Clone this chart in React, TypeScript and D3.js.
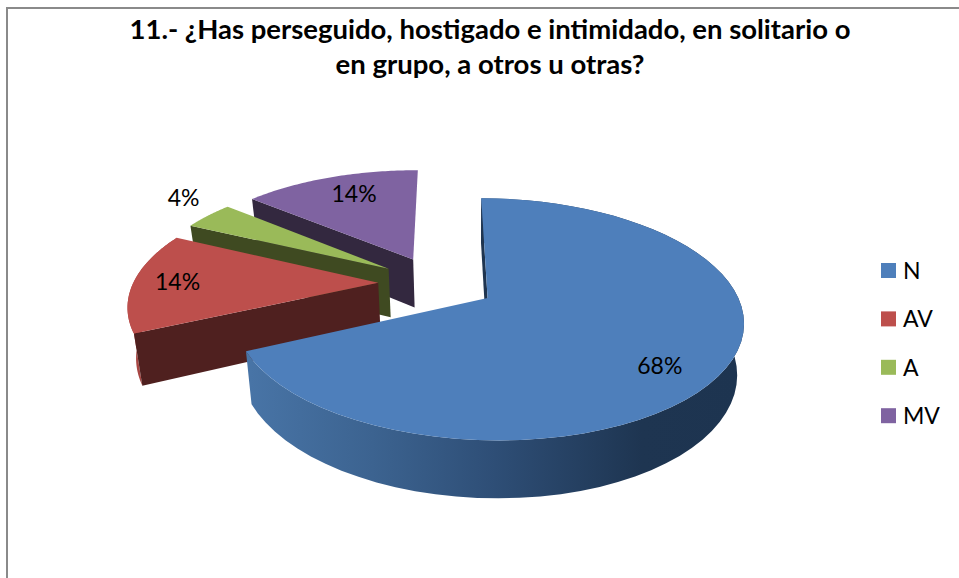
import React from "react";
import * as d3 from "d3";

const categories = ["N", "AV", "A", "MV"];
const values = [68, 14, 4, 14];
const percentLabels = ["68%", "14%", "4%", "14%"];
const titleLines = [
  "11.- ¿Has perseguido, hostigado e intimidado, en solitario o",
  "en grupo, a otros u otras?",
];
const titleWidths = [721, 309];
const topColors = ["#4E7FBB", "#BD4F4C", "#9ABA59", "#7F63A1"];
const faceColors = ["#1F3550", "#4F201F", "#3F4A21", "#33283F"];
const wallColors = ["url(#blueWall)", "#A84643", "none", "none"];

// label placement: radius along the slice bisector + pixel nudge
const labelRadius = [0.75, 0.82, 1.1, 0.72];
const labelNudgeX = [-2, 0, -8, 3];
const labelNudgeY = [17, 0, -13, -4];

const FONT = "Lato, Carlito, sans-serif";
const explode = 0.24;
const rotation = (0.35 * Math.PI) / 180;
const CX = 437, CY = 283, RX = 245, RY = 112.1, PERSP = 0.173;

// Perspective projection of the pie plane (u right, v to the back)
const project = (u: number, v: number): [number, number] => {
  const s = 1 / (1 + PERSP * v);
  return [CX + RX * u * s, CY - RY * v * s];
};
// The lower plane of the disc
const lower = ([x, y]: [number, number]): [number, number] => [
  470 + (x - 470) * 0.975,
  y * 1.055 + 33.7,
];

const pieGen = d3
  .pie<number>()
  .sort(null)
  .startAngle(rotation)
  .endAngle(rotation + 2 * Math.PI);
const arcs = pieGen(values);
const line = d3.line();

const polar = (apex: [number, number], theta: number, r: number): [number, number] =>
  project(apex[0] + r * Math.sin(theta), apex[1] + r * Math.cos(theta));

export default function App() {
  const slices = arcs.map((a, i) => {
    const mid = (a.startAngle + a.endAngle) / 2;
    const apex: [number, number] = [explode * Math.sin(mid), explode * Math.cos(mid)];
    const thetas = d3.range(0, 61).map((k) => a.startAngle + ((a.endAngle - a.startAngle) * k) / 60);
    const rim = thetas.map((t) => polar(apex, t, 1));
    const centre = project(apex[0], apex[1]);
    const top = [centre, ...rim];
    const wall = [...rim, ...rim.map(lower).reverse()];
    const quad = (p: [number, number]) => [centre, p, lower(p), lower(centre)] as [number, number][];
    const face = quad(rim[0]);
    const lp = polar(apex, mid, labelRadius[i]);
    return { i, top, wall, face, lx: lp[0] + labelNudgeX[i], ly: lp[1] + labelNudgeY[i] };
  });
  const drawOrder = [3, 2, 1, 0];

  return (
    <svg
      width={959}
      height={578}
      style={{ position: "absolute", left: 0, top: 0, background: "#fff" }}
      fontFamily={FONT}
    >
      <defs>
        <linearGradient id="blueWall" gradientUnits="userSpaceOnUse" x1={250} x2={740} y1={0} y2={0}>
          <stop offset="0" stopColor="#4874A6" />
          <stop offset="0.25" stopColor="#3C6390" />
          <stop offset="0.5" stopColor="#2E4E76" />
          <stop offset="0.8" stopColor="#1E3551" />
          <stop offset="1" stopColor="#1D3450" />
        </linearGradient>
      </defs>

      <path d="M7 578V8H959" fill="none" stroke="#8A8A8A" strokeWidth={2} />

      {titleLines.map((t, i) => (
        <text
          key={i}
          x={490}
          y={39 + i * 35}
          textAnchor="middle"
          fontSize={26}
          fontWeight={700}
          fill="#000"
          textLength={titleWidths[i]}
          lengthAdjust="spacingAndGlyphs"
        >
          {t}
        </text>
      ))}

      {drawOrder.map((i) => {
        const s = slices[i];
        return (
          <g key={categories[i]}>
            <path d={line(s.wall) + "Z"} fill={wallColors[i]} />
            <path d={line(s.face) + "Z"} fill={faceColors[i]} />
            <path d={line(s.top) + "Z"} fill={topColors[i]} />
          </g>
        );
      })}

      {slices.map((s) => (
        <text
          key={s.i}
          x={s.lx}
          y={s.ly}
          dy="0.35em"
          textAnchor="middle"
          fontSize={23}
          fill="#000"
        >
          {percentLabels[s.i]}
        </text>
      ))}

      {categories.map((c, i) => (
        <g key={c} transform={`translate(881,${263 + i * 48.4})`}>
          <rect width={15} height={15} fill={topColors[i]} />
          <text x={22} y={7.5} dy="0.36em" fontSize={23} fill="#000">
            {c}
          </text>
        </g>
      ))}
    </svg>
  );
}
